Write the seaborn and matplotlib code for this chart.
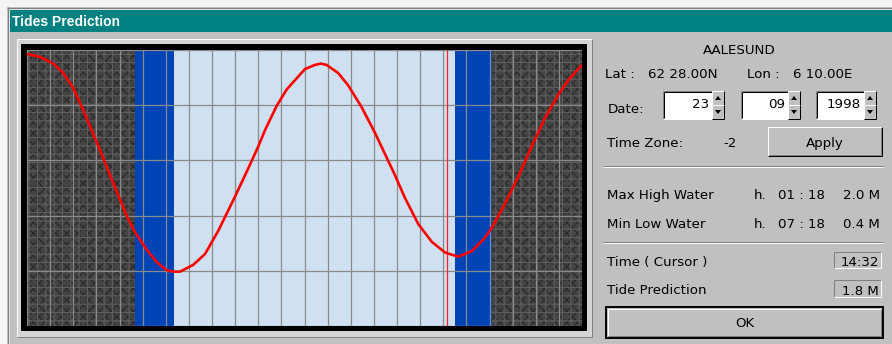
import numpy as np
import pandas as pd
import matplotlib
matplotlib.use("Agg")
import matplotlib.pyplot as plt
from matplotlib.patches import Rectangle, Polygon
import seaborn as sns

# tide curve (hour of day, metres)
hours = [0.0, 0.56, 1.14, 1.57, 2.00, 2.37, 2.80, 3.16, 3.59, 4.02, 4.31, 4.67,
         5.18, 5.61, 6.04, 6.33, 6.62, 7.19, 7.70, 8.27, 8.99, 9.57, 10.00,
         10.29, 10.80, 11.23, 12.02, 12.45, 12.70, 12.96, 13.46, 13.89, 14.47,
         15.05, 15.55, 15.91, 16.35, 16.92, 17.50, 18.08, 18.65, 19.23, 19.81,
         20.16, 20.67, 21.25, 21.82, 22.40, 22.97, 23.41, 24.0]
tide_m = [2.00, 1.98, 1.93, 1.86, 1.75, 1.61, 1.44, 1.29, 1.11, 0.93, 0.81, 0.69,
          0.56, 0.47, 0.41, 0.40, 0.40, 0.45, 0.53, 0.70, 0.95, 1.16, 1.32,
          1.44, 1.62, 1.74, 1.89, 1.92, 1.93, 1.92, 1.86, 1.77, 1.61,
          1.42, 1.24, 1.11, 0.94, 0.75, 0.62, 0.54, 0.51, 0.55, 0.65,
          0.74, 0.90, 1.10, 1.32, 1.53, 1.70, 1.81, 1.92]

# day / twilight / night limits in hours, cursor position
night_end, dawn_end, day_end, dusk_end = 4.67, 6.36, 18.51, 20.09
cursor_hour = 18.18
y_top = 2.03

# dialog texts
station = "AALESUND"
lat_lon = ["Lat :", "62 28.00N", "Lon :", "6 10.00E"]
date_parts = ["23", "09", "1998"]
time_zone = "-2"
extremes = [("Max High Water", "01 : 18", "2.0 M"),
            ("Min Low Water", "07 : 18", "0.4 M")]
cursor_time = "14:32"
cursor_tide = "1.8 M"

W, H = 892, 344
GRAY = "#c0c0c0"
DARK = "#808080"

sns.set_theme(style="white")
plt.rcParams["font.family"] = ["DejaVu Sans"]
plt.rcParams["hatch.linewidth"] = 0.8

fig = plt.figure(figsize=(W / 100, H / 100), dpi=100, facecolor=GRAY)

# pixel-space layer for the window chrome
ui = fig.add_axes([0, 0, 1, 1])
ui.set_xlim(0, W)
ui.set_ylim(H, 0)
ui.axis("off")
ui.set_facecolor(GRAY)


def rect(x0, y0, x1, y1, fc, ec="none", lw=0, **kw):
    ui.add_patch(Rectangle((x0, y0), x1 - x0, y1 - y0, facecolor=fc,
                           edgecolor=ec, linewidth=lw, **kw))


def line(xs, ys, color, lw=1):
    ui.plot(xs, ys, color=color, lw=lw * 0.72, solid_capstyle="butt")


def bevel(x0, y0, x1, y1, light, dark):
    line([x0, x1], [y0, y0], light)
    line([x0, x0], [y0, y1], light)
    line([x0, x1], [y1, y1], dark)
    line([x1, x1], [y0, y1], dark)


def txt(x, y, s, ha="left", size=9.6, color="#000000", **kw):
    ui.text(x, y, s, ha=ha, va="baseline", fontsize=size, color=color, **kw)


# window edge and title bar
rect(0, 0, W, 7, "#f4f4f4")
rect(0, 0, 7, H, "#f4f4f4")
line([7, W], [7.5, 7.5], DARK)
line([7.5, 7.5], [7, H], DARK)
line([8.5, W], [8.7, 8.7], "#e0e0e0")
line([8.7, 8.7], [8.5, H], "#e0e0e0")
rect(10, 10, W, 32, "#008080")
ui.text(12, 26, "Tides Prediction", ha="left", va="baseline", fontsize=10,
        color="white", fontweight="bold", family=["Liberation Sans", "DejaVu Sans"])

# chart frame
rect(16.5, 38.5, 591.5, 336.5, "#d4d4d4")
bevel(16.5, 38.5, 591.5, 336.5, "white", DARK)
rect(21, 44, 587, 331, "black")

# spin boxes
boxes = [(663, 712), (741, 788), (816, 864)]
for (bx0, bx1), s in zip(boxes, date_parts):
    rect(bx0, 91, bx1, 119, "white")
    bevel(bx0, 91, bx1, 119, DARK, "white")
    line([bx0 + 1, bx1], [92, 92], "black")
    line([bx0 + 1, bx0 + 1], [92, 118], "black")
    txt(bx1 - 3, 108, s, ha="right")
    sx0, sx1 = bx1, bx1 + 12
    for sy0, sy1, up in [(91, 105, True), (105, 119, False)]:
        rect(sx0, sy0, sx1, sy1, GRAY)
        bevel(sx0, sy0, sx1 - 0.5, sy1 - 0.5, "white", "black")
        cx, cy = (sx0 + sx1) / 2, (sy0 + sy1) / 2
        tri = [(cx - 3, cy + 2), (cx + 3, cy + 2), (cx, cy - 2)] if up else \
              [(cx - 3, cy - 2), (cx + 3, cy - 2), (cx, cy + 2)]
        ui.add_patch(Polygon(tri, closed=True, facecolor="black", edgecolor="none"))

# buttons
rect(768, 127, 882, 156, GRAY)
bevel(768, 127, 882, 156, "white", "black")
line([769, 881], [155, 155], DARK)
line([881, 881], [128, 155], DARK)
txt(825, 147, "Apply", ha="center")

rect(606, 307, 883, 338, GRAY)
rect(606, 307, 883, 338, "none", "black", 1.4)
bevel(608, 309, 881, 336, "white", DARK)
txt(744.5, 327, "OK", ha="center")

# etched separators
for sy in [166, 242]:
    line([603, 883], [sy, sy], DARK)
    line([603, 883], [sy + 1, sy + 1], "white")

# readout boxes
for (ry0, ry1), s, base in [((252, 268), cursor_time, 266.5), ((280, 297), cursor_tide, 295)]:
    bevel(834, ry0, 881, ry1, DARK, "white")
    txt(879, base, s, ha="right")

# labels
txt(739, 54, station, ha="center")
txt(605, 78, lat_lon[0])
txt(648, 78, lat_lon[1])
txt(747, 78, lat_lon[2])
txt(852, 78, lat_lon[3], ha="right")
txt(608, 113, "Date:")
txt(607, 147, "Time Zone:")
txt(730, 147, time_zone, ha="center")
for (label, hm, val), base in zip(extremes, [199, 228]):
    txt(607, base, label)
    txt(754, base, "h.")
    txt(778, base, hm)
    txt(880, base, val, ha="right")
txt(607, 266, "Time ( Cursor )")
txt(607, 293.5, "Tide Prediction")

# tide chart
ax = fig.add_axes([27 / W, (H - 326) / H, 555 / W, 276 / H])
ax.set_facecolor("#cfe0f0")
for a, b in [(0, night_end), (dusk_end, 24)]:
    ax.axvspan(a, b, facecolor="#444444", edgecolor="#2a2a2a", hatch="xxx", lw=0)
    ax.axvspan(a, b, facecolor="none", edgecolor="#5e5e5e", hatch="++", lw=0)
ax.axvspan(night_end, dawn_end, facecolor="#0044b6", lw=0)
ax.axvspan(day_end, dusk_end, facecolor="#0044b6", lw=0)

df = pd.DataFrame({"hour": hours, "tide": tide_m})
sns.lineplot(data=df, x="hour", y="tide", ax=ax, color="#ff0000", lw=1.9,
             zorder=4, sort=False, solid_joinstyle="round")
ax.axvline(cursor_hour, color="#ff2020", lw=0.9, zorder=3)

ax.set_xlim(0, 24)
ax.set_ylim(0, y_top)
ax.set_xticks(np.arange(25))
ax.set_yticks(np.linspace(0, y_top, 6))
ax.set_axisbelow(False)
ax.grid(True, color="#8a8a8a", lw=0.9)
ax.tick_params(length=0, labelbottom=False, labelleft=False)
ax.set_xlabel("")
ax.set_ylabel("")
for sp in ax.spines.values():
    sp.set_visible(False)

fig.savefig("out.png", dpi=100, facecolor=GRAY)
